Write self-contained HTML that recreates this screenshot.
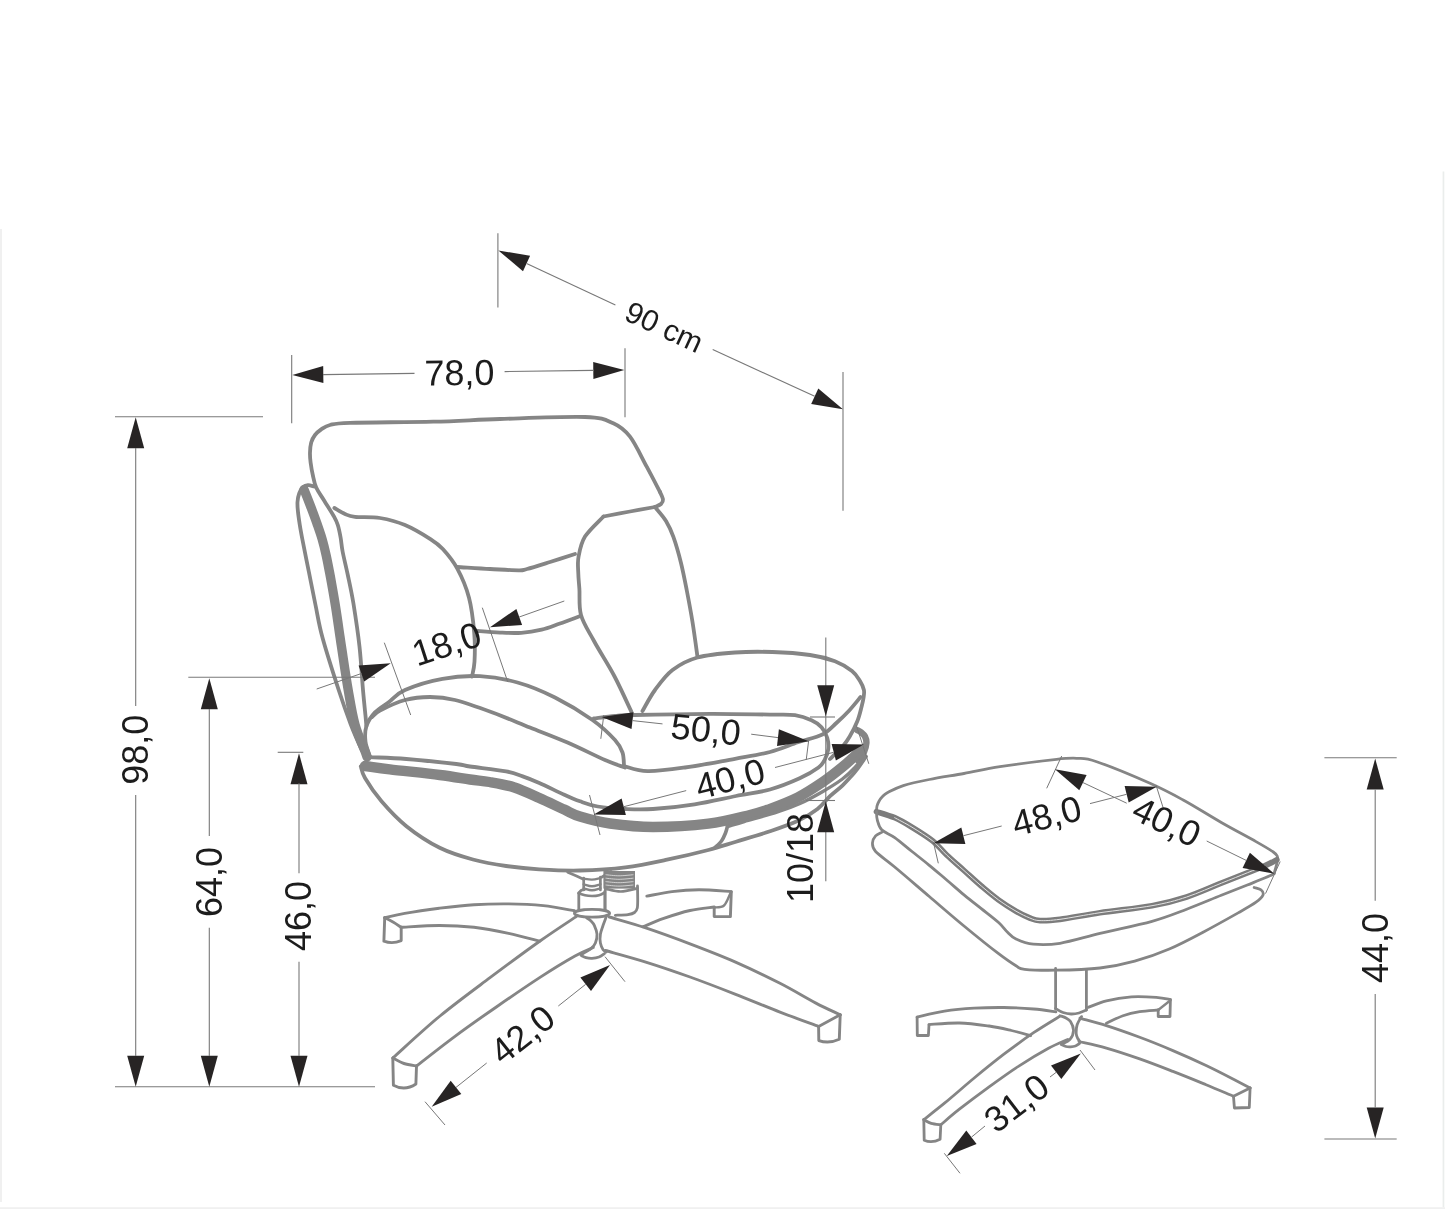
<!DOCTYPE html>
<html lang="en">
<head>
<meta charset="utf-8">
<title>Armchair with footstool – dimensions</title>
<style>
html,body{margin:0;padding:0;background:#fff;}
body{width:1445px;height:1212px;overflow:hidden;position:relative;}
svg{position:absolute;left:0;top:0;display:block;will-change:transform;}
svg text{font-family:"Liberation Sans",Arial,Helvetica,sans-serif;}
</style>
</head>
<body>
<svg width="1445" height="1212" viewBox="0 0 1445 1212">
<rect x="0" y="0" width="1445" height="1212" fill="#ffffff"/>
<rect x="0" y="229" width="2" height="973" fill="#f0f0f0"/>
<rect x="1442.6" y="171.5" width="1.7" height="1036" fill="#eaedec"/>
<rect x="0" y="1207.2" width="1445" height="1.8" fill="#f0f0f0"/>
<g id="armchair">
<path d="M314 486.5C313 486.3 309.9 485.1 308 485.2C306.1 485.3 304.3 486 302.8 487.4C301.3 488.8 300.1 491.1 299.2 493.5C298.3 495.9 297.7 498.9 297.5 502C297.3 505.1 297.6 508.2 298 512C298.4 515.8 299.1 520.5 299.8 525C300.5 529.5 300.8 531.2 302.3 539C303.8 546.8 306.7 561 308.9 572C311.1 583 313.2 594 315.5 605C317.8 616 318.7 623.8 322.6 638C326.5 652.2 334 675.6 338.7 690C343.4 704.4 347.1 714.7 350.8 724.5C354.6 734.3 358.7 743.3 361.2 748.7C363.7 754.1 365.2 755.6 366 757" fill="none" stroke="#858585" stroke-width="3.8" stroke-linecap="round" stroke-linejoin="round"/>
<path d="M304 489.5C305.1 492.2 308.4 500.5 310.5 506C312.6 511.5 314.7 517 316.6 522.5C318.5 528 320.5 533.5 322.1 539C323.7 544.5 325 550 326.2 555.5C327.4 561 328.4 566.5 329.5 572C330.6 577.5 331.5 583 332.5 588.5C333.5 594 334.4 599.5 335.3 605C336.2 610.5 337 616 337.8 621.5C338.6 627 339.4 632.9 340.2 638C340.9 643.1 341 643.3 342.3 652C343.6 660.7 346.1 677.9 348.2 690C350.3 702.1 352.2 714.4 355 724.5C357.8 734.6 362.7 745.1 364.7 750.5C366.7 755.9 366.6 755.9 367 757" fill="none" stroke="#858585" stroke-width="9.3" stroke-linecap="round" stroke-linejoin="round"/>
<path d="M366.4 726C366.2 724.3 366.1 721.8 365.5 715.8C364.9 709.8 364 701.5 363 690C362 678.5 361.1 661.1 359.5 646.6C357.9 632.1 355.3 615.2 353.4 603.3C351.4 591.4 349.6 583.6 347.8 575C346 566.4 343.8 557.8 342.6 551.5C341.4 545.2 341.4 541.9 340.6 537.5C339.8 533.1 338.9 528.5 337.8 525C336.7 521.5 336.1 520.4 333.8 516.2C331.4 512.1 326.7 504.8 323.8 500C320.8 495.2 318.1 491.7 316.2 487.5C314.4 483.3 313.7 479.2 312.8 475C311.8 470.8 311.1 466.2 310.6 462.5C310.1 458.8 309.9 455.8 310 452.5C310.1 449.2 310.4 445.4 311.2 442.5C312.1 439.6 313.3 437.2 315 435C316.7 432.8 318.8 431.1 321.2 429.4C323.8 427.7 325.2 426.1 330 425C334.8 423.9 332.8 423.4 350 422.8C367.2 422.2 408.3 422.3 433.3 421.7C458.3 421.1 474.7 419.8 500 419C525.3 418.2 566.1 416.3 585 417C603.9 417.7 605.8 420 613.3 423.3C620.8 426.6 624.4 429.5 630 436.7C635.6 443.9 641.7 457.5 646.7 466.7C651.7 475.9 657.8 487.8 660 492" fill="none" stroke="#858585" stroke-width="3.8" stroke-linecap="round" stroke-linejoin="round"/>
<path d="M660 492C660.5 493.2 662.8 497.5 663 499.5C663.2 501.5 662.3 502.8 661 504C659.7 505.2 656 506.5 655 507" fill="none" stroke="#858585" stroke-width="3.8" stroke-linecap="round" stroke-linejoin="round"/>
<path d="M655 507C650.8 507.8 638.6 509.9 630 511.5C621.4 513.1 607.9 515.7 603.5 516.5" fill="none" stroke="#858585" stroke-width="3.8" stroke-linecap="round" stroke-linejoin="round"/>
<path d="M334.4 508C336.2 509 341.6 512.5 345 514C348.4 515.5 349.2 516.2 355 516.9C360.8 517.6 371.7 516.6 380 518C388.3 519.4 396.7 521.5 405 525C413.3 528.5 423.7 534.8 430 538.8C436.3 542.8 438.2 544 442.8 549C447.4 554 452.9 560.5 457.3 568.6C461.7 576.7 466.2 587 469 597.7C471.8 608.4 473.3 622 474.2 632.6C475.1 643.2 474.9 654.3 474.5 661.6C474.1 668.9 472.4 674 472 676.5" fill="none" stroke="#858585" stroke-width="3.8" stroke-linecap="round" stroke-linejoin="round"/>
<path d="M457.3 567C462.8 567.3 479.8 568.5 490 569C500.2 569.5 512.2 570.3 518.4 570.3C524.6 570.3 521.7 570.4 527 569C532.3 567.6 542 564.5 550 562C558 559.5 570.8 555.3 575 554" fill="none" stroke="#858585" stroke-width="3.8" stroke-linecap="round" stroke-linejoin="round"/>
<path d="M477.7 631C481.4 631.3 492.7 632.3 500 632.6C507.3 632.9 514.4 633.3 521.3 632.8C528.2 632.3 535.1 631.2 541.6 629.7C548.1 628.2 553.7 625.7 560 623.5C566.3 621.3 576.2 617.5 579.5 616.3" fill="none" stroke="#858585" stroke-width="3.8" stroke-linecap="round" stroke-linejoin="round"/>
<path d="M603.5 516.5C600.4 519.9 589.2 529.9 585 536.6C580.8 543.4 579.6 550.9 578.5 557C577.4 563.1 578.1 568 578.3 573.3C578.4 578.6 578.9 582 579.4 589C579.9 596 578.6 606.3 581 615C583.4 623.7 588.5 630.8 594 641C599.5 651.2 608 664.1 614.3 676C620.6 687.9 628.8 706.4 631.7 712.5" fill="none" stroke="#858585" stroke-width="3.8" stroke-linecap="round" stroke-linejoin="round"/>
<path d="M655 507C656.8 509.3 663 516 666 521C669 526 670.8 529.7 673.3 536.7C675.8 543.7 678.8 554.1 681 563C683.2 571.9 684.8 580.2 686.7 590C688.6 599.8 690.7 610.8 692.5 622C694.3 633.2 696.7 651.2 697.5 657" fill="none" stroke="#858585" stroke-width="3.8" stroke-linecap="round" stroke-linejoin="round"/>
<path d="M369.8 756C369.1 753.6 366.1 746.8 365.5 741.8C364.9 736.8 364.8 731.1 366.4 726.2C368 721.3 371.2 716.4 375 712.4C378.8 708.4 384 705.7 389 702C394 698.3 396.1 693.9 405 690C413.9 686.1 430 681 442.5 678.8C455 676.5 467.5 675.6 480 676.2C492.5 676.9 505 679 517.5 682.5C530 686 542.5 691.2 555 697.5C567.5 703.8 582.5 712.9 592.5 720C602.5 727.1 610 734.6 615 740C620 745.4 621 748.2 622.5 752.5C624 756.8 623.8 763.8 624 766" fill="none" stroke="#858585" stroke-width="3.8" stroke-linecap="round" stroke-linejoin="round"/>
<path d="M372 717C373.3 715.9 374.5 713.3 380 710.5C385.5 707.7 396.7 702.2 405 700C413.3 697.8 421.7 697 430 697C438.3 697 444.6 697.4 455 700C465.4 702.6 480 707.9 492.5 712.5C505 717.1 517.5 722.5 530 727.5C542.5 732.5 555 737.1 567.5 742.5C580 747.9 595.4 755.8 605 760C614.6 764.2 621.7 766.2 625 767.5" fill="none" stroke="#858585" stroke-width="3.8" stroke-linecap="round" stroke-linejoin="round"/>
<path d="M642.5 711C644.6 707.5 650 696.8 655 690C660 683.2 665.4 675.4 672.5 670C679.6 664.6 687.1 660.4 697.5 657.5C707.9 654.6 722.5 653.4 735 652.5C747.5 651.6 760 651.6 772.5 652C785 652.4 799.6 653.5 810 655C820.4 656.5 828 658.6 835 661.2C842 663.9 847.8 667.7 852 671C856.2 674.3 858 677.8 860 681C862 684.2 863.3 687.2 863.9 690C864.5 692.8 863.9 695.1 863.5 698C863.1 700.9 862.4 703.5 861.4 707.4C860.4 711.3 859.2 716.6 857.2 721.5C855.2 726.4 852.1 732.4 849.7 736.5C847.3 740.6 846.3 742.2 843 746C839.7 749.8 832.2 756.8 830 759" fill="none" stroke="#858585" stroke-width="3.8" stroke-linecap="round" stroke-linejoin="round"/>
<path d="M593.8 718.5C597.3 718.1 608.1 716.6 615 716C621.9 715.4 619.2 715.4 635 715C650.8 714.6 687.5 713.9 710 713.8C732.5 713.7 755.8 714.4 770 714.6C784.2 714.8 788.1 714.2 795 715.2C801.9 716.2 807.1 718.3 811.5 720.3C815.9 722.3 818.9 724.3 821.5 727.3C824.1 730.2 826.2 734.4 827.3 738C828.4 741.6 828.7 745.4 828.3 749C827.9 752.6 826.4 756.4 824.8 759.5C823.2 762.6 822.7 764.4 818.5 767.5C814.3 770.6 807.8 774.6 799.7 778.3C791.6 782 780.6 786.5 770 789.5C759.4 792.5 748.6 793.5 736 796C723.4 798.5 708.4 802.1 694.6 804.3C680.8 806.5 664.5 808.2 653 809C641.5 809.8 634.6 809.4 625.4 809C616.2 808.6 605.3 807.8 597.7 806.5C590.1 805.2 585.6 803.3 580 801.3C574.4 799.3 571.1 797.8 564.3 794.7C557.5 791.7 546.2 786 539.3 783C532.4 780 528.2 778.3 522.7 776.4C517.2 774.5 514.9 773 506.1 771.4C497.3 769.8 478.3 767.7 470 766.5C461.7 765.3 466.9 765.2 456.3 764C445.7 762.8 420.2 760.1 406.4 759C392.5 757.9 379.8 757.6 373.2 757.3C366.6 757 368 757 367 757" fill="none" stroke="#858585" stroke-width="3.8" stroke-linecap="round" stroke-linejoin="round"/>
<path d="M624 766C627.9 766.9 637.3 771 647.5 771.2C657.7 771.5 670.4 769.6 685 767.5C699.6 765.4 720.8 761.3 735 758.8C749.2 756.2 759.5 754.7 770 752C780.5 749.3 789.3 745.2 798 742.3C806.7 739.4 816 737.7 822.4 734.5C828.8 731.3 832 727 836.4 723C840.8 719 845 715 849 710.7C853 706.4 858.6 699.3 860.5 697" fill="none" stroke="#858585" stroke-width="3.8" stroke-linecap="round" stroke-linejoin="round"/>
<path d="M365 766C369.1 766.5 377.4 767.8 389.8 769.3C402.2 770.8 426.3 773.3 439.7 775C453.1 776.7 461.7 778.3 470 779.5C478.3 780.7 482.1 780.7 489.5 782C496.9 783.3 506.1 784.8 514.4 787.5C522.7 790.2 531 794.3 539.3 798C547.6 801.7 557.5 806.5 564.3 809.6C571.1 812.7 572.4 814.2 580 816.5C587.6 818.8 597.8 821.8 610 823.5C622.2 825.2 636.6 827 653 827C669.4 827 692.2 825.7 708.4 823.7C724.6 821.7 739.9 817.4 750 815C760.1 812.6 761 812.2 769 809.3C777 806.3 789.1 801.8 798 797.3C806.9 792.8 815 787.3 822.4 782.3C829.8 777.2 837 771.4 842.4 767C847.8 762.6 851.8 758.8 854.8 756C857.8 753.2 859.5 751.4 860.5 750.5" fill="none" stroke="#858585" stroke-width="10.4" stroke-linecap="round" stroke-linejoin="round"/>
<path d="M858 760.5C859 759.1 862.6 754.9 864 752C865.4 749.1 866.2 745.6 866.4 743C866.6 740.4 865.9 738.3 865 736.5C864.1 734.7 862.3 733.4 861 732.3C859.7 731.2 857.7 730.4 857 730" fill="none" stroke="#858585" stroke-width="6.4" stroke-linecap="round" stroke-linejoin="round"/>
<path d="M864.5 755C862.9 757.1 858.7 763.5 855 767.5C851.3 771.5 847.9 774.9 842.4 779C836.9 783.1 829.1 787.9 822 792C814.9 796.1 807.4 800.2 800 803.5C792.6 806.8 786.8 809 777.5 812C768.2 815 752.6 819.1 744.3 821.5C736 823.9 730.3 825.7 727.5 826.5" fill="none" stroke="#858585" stroke-width="3.4" stroke-linecap="round" stroke-linejoin="round"/>
<path d="M727.5 826C727.2 827.2 726.5 830.5 725.5 833C724.5 835.5 723.3 838.5 721.5 841C719.7 843.5 715.7 846.8 714.5 848" fill="none" stroke="#858585" stroke-width="3.6" stroke-linecap="round" stroke-linejoin="round"/>
<path d="M360.8 766.4C361.5 768.3 361.6 772.2 365 778C368.4 783.8 374.6 793.3 381.5 801.3C388.4 809.3 396.7 818.5 406.4 826.2C416.1 834 428.6 842.2 439.7 847.8C450.8 853.3 461.8 856.5 472.9 859.5C484 862.5 495 864.4 506.1 866C517.2 867.6 527 868.6 539.3 869.4C551.6 870.1 565.6 870.9 580 870.5C594.4 870.1 610.9 869.1 625.4 867.3C639.9 865.5 653.2 862.6 667 859.7C680.8 856.8 696.9 853 708.4 850C719.9 847 725.7 844.8 736 841.7C746.3 838.6 759.7 834.8 770 831.3C780.3 827.8 790.1 824.5 798 820.8C805.9 817.1 812.2 813.1 817.5 809C822.8 804.9 825.9 800.1 830 796.2C834.1 792.3 838.8 789 842.4 785.6C846 782.2 849.1 778.6 851.7 775.7C854.3 772.8 855.8 770.9 857.8 768.3C859.8 765.7 862 762.3 863.4 760.3C864.8 758.3 865.6 757.1 866 756.5" fill="none" stroke="#858585" stroke-width="3.8" stroke-linecap="round" stroke-linejoin="round"/>
<path d="M567.7 872.2L576.5 876L583 879" fill="none" stroke="#858585" stroke-width="2.7" stroke-linecap="round" stroke-linejoin="round"/>
<path d="M611 871.5L602 877" fill="none" stroke="#858585" stroke-width="2.7" stroke-linecap="round" stroke-linejoin="round"/>
<path d="M583.7 878L583.7 890" fill="none" stroke="#858585" stroke-width="2.7" stroke-linecap="round" stroke-linejoin="round"/>
<path d="M600.4 877L600.4 890" fill="none" stroke="#858585" stroke-width="2.7" stroke-linecap="round" stroke-linejoin="round"/>
<path d="M583.7 878.6C585.1 878.8 589.2 879.7 592 879.6C594.8 879.5 599 878.3 600.4 878" fill="none" stroke="#858585" stroke-width="2.4" stroke-linecap="round" stroke-linejoin="round"/>
<path d="M583.7 884.3C585.1 884.6 589.2 886.3 592 886.3C594.8 886.3 599 884.6 600.4 884.3" fill="none" stroke="#858585" stroke-width="2.4" stroke-linecap="round" stroke-linejoin="round"/>
<path d="M583.7 888.3C585.1 888.6 589.2 890.3 592 890.3C594.8 890.3 599 888.6 600.4 888.3" fill="none" stroke="#858585" stroke-width="2.4" stroke-linecap="round" stroke-linejoin="round"/>
<path d="M578.8 893L578.8 912" fill="none" stroke="#858585" stroke-width="2.8" stroke-linecap="round" stroke-linejoin="round"/>
<path d="M604.8 891.5L604.8 913" fill="none" stroke="#858585" stroke-width="2.8" stroke-linecap="round" stroke-linejoin="round"/>
<path d="M578.8 893.2C579.2 892.8 580 891.1 581 890.5C582 889.9 584.3 889.5 585 889.3" fill="none" stroke="#858585" stroke-width="2.7" stroke-linecap="round" stroke-linejoin="round"/>
<path d="M578.8 893.2C579.8 893.6 582.8 894.8 585 895.3C587.2 895.8 589.7 896 592 896C594.3 896 596.9 895.8 599 895.2C601.1 894.6 603.8 893 604.8 892.5" fill="none" stroke="#858585" stroke-width="2.7" stroke-linecap="round" stroke-linejoin="round"/>
<rect x="603.4" y="871" width="31.6" height="17.6" fill="#858585"/>
<path d="M605.6 874.7C607.8 874.9 614.4 875.8 619 875.8C623.6 875.8 631 874.9 633.4 874.7" fill="none" stroke="#d9d9d9" stroke-width="0.9" stroke-linecap="butt" stroke-linejoin="round"/>
<path d="M605.6 878.2C607.8 878.4 614.4 879.3 619 879.3C623.6 879.3 631 878.4 633.4 878.2" fill="none" stroke="#d9d9d9" stroke-width="0.9" stroke-linecap="butt" stroke-linejoin="round"/>
<path d="M605.6 881.6C607.8 881.8 614.4 882.7 619 882.7C623.6 882.7 631 881.8 633.4 881.6" fill="none" stroke="#d9d9d9" stroke-width="0.9" stroke-linecap="butt" stroke-linejoin="round"/>
<path d="M605.6 885C607.8 885.2 614.4 886.1 619 886.1C623.6 886.1 631 885.2 633.4 885" fill="none" stroke="#d9d9d9" stroke-width="0.9" stroke-linecap="butt" stroke-linejoin="round"/>
<path d="M605.3 888.8C607.9 889.2 615.4 891.6 620.8 891.5C626.2 891.4 634.7 888.8 637.5 888.3" fill="none" stroke="#858585" stroke-width="2.7" stroke-linecap="round" stroke-linejoin="round"/>
<path d="M637.5 886C637.5 888 637.7 894.3 637.7 898C637.7 901.7 637.8 905.6 637.3 908C636.8 910.4 636 911.4 634.5 912.5C633 913.6 631.2 914.1 628 914.6C624.8 915.1 617.4 915.2 615.3 915.3" fill="none" stroke="#858585" stroke-width="2.8" stroke-linecap="round" stroke-linejoin="round"/>
<path d="M605.3 889L605.3 913" fill="none" stroke="#858585" stroke-width="2.4" stroke-linecap="round" stroke-linejoin="round"/>
<ellipse cx="592" cy="913.3" rx="17.6" ry="3.9" fill="#fff" stroke="#858585" stroke-width="2.8"/>
<path d="M586.5 917.6C587.2 918.2 589.7 919.7 591 921C592.3 922.3 593.3 923.1 594.3 925.3C595.3 927.5 596.8 931.2 597 934.2C597.2 937.2 596.4 940.6 595.4 943C594.4 945.4 593.2 946.8 591 948.6C588.8 950.4 583.5 953.1 582 954" fill="none" stroke="#858585" stroke-width="2.8" stroke-linecap="round" stroke-linejoin="round"/>
<path d="M606.4 916.4C605.9 917.9 604.1 922.3 603.1 925.3C602.1 928.3 600.9 931.2 600.4 934.2C599.9 937.2 599.9 940.4 600.4 943C600.9 945.6 602.1 948.2 603.1 949.7C604.1 951.2 605.9 951.5 606.4 951.9" fill="none" stroke="#858585" stroke-width="2.8" stroke-linecap="round" stroke-linejoin="round"/>
<path d="M581 955.3C581.8 955.7 584.2 957.1 586 957.6C587.8 958.1 589.8 958.4 592 958.3C594.2 958.2 596.9 957.8 599 957C601.1 956.2 603.6 954.2 604.5 953.6" fill="none" stroke="#858585" stroke-width="2.8" stroke-linecap="round" stroke-linejoin="round"/>
<path d="M574.5 910.8C569.3 909.9 554.3 906.8 543.3 905.6C532.3 904.5 520.1 904 508.6 903.9C497.1 903.8 485.6 904 474 904.7C462.4 905.4 450.9 906.8 439.3 908.2C427.8 909.7 413.8 911.8 404.7 913.4C395.6 915 388 917 384.7 917.7" fill="none" stroke="#858585" stroke-width="2.9" stroke-linecap="round" stroke-linejoin="round"/>
<path d="M384.7 917.7L383.9 941.2Q392.5 944.3 401.2 940.6L401.2 927.3" fill="none" stroke="#858585" stroke-width="2.9" stroke-linecap="round" stroke-linejoin="round"/>
<path d="M384.7 917.7C386.1 918.4 390.2 920.4 393 922C395.8 923.6 399.8 926.4 401.2 927.3" fill="none" stroke="#858585" stroke-width="2.9" stroke-linecap="round" stroke-linejoin="round"/>
<path d="M401.2 927.3C407.6 927 427.2 925.5 439.3 925.5C451.4 925.5 462.4 926 474 927.3C485.6 928.6 497.6 931 508.6 933.3C519.6 935.6 534.6 939.8 539.8 941.1" fill="none" stroke="#858585" stroke-width="2.9" stroke-linecap="round" stroke-linejoin="round"/>
<path d="M576.5 916.4C570.4 920.5 554.4 930.8 540 941C525.6 951.2 506.7 965.2 490 977.7C473.3 990.2 456.1 1002.7 440 1016C423.9 1029.3 401.1 1050.6 393.3 1057.5" fill="none" stroke="#858585" stroke-width="2.9" stroke-linecap="round" stroke-linejoin="round"/>
<path d="M593.2 947.5C590.2 948.9 583.9 951 575 956C566.1 961 553 968.9 540 977.4C527 985.9 510.9 996.9 496.7 1006.7C482.5 1016.5 468.4 1026.4 455 1036.3C441.6 1046.2 422.9 1061 416.5 1066" fill="none" stroke="#858585" stroke-width="2.9" stroke-linecap="round" stroke-linejoin="round"/>
<path d="M392.8 1058C394.7 1058.9 400.1 1062.2 404 1063.5C407.9 1064.8 414.4 1065.6 416.5 1066" fill="none" stroke="#858585" stroke-width="2.9" stroke-linecap="round" stroke-linejoin="round"/>
<path d="M392.8 1058L393.4 1085.2Q404.8 1091.4 415.9 1084L416.5 1066" fill="none" stroke="#858585" stroke-width="2.9" stroke-linecap="round" stroke-linejoin="round"/>
<path d="M609.3 917C615.2 918.8 631.5 923.1 645 927.6C658.5 932.1 675 938.1 690 943.8C705 949.5 720 955.2 735 961.8C750 968.4 766.5 976.4 780 983.3C793.5 990.2 805.9 997.9 815.9 1003.1C825.9 1008.4 836.2 1012.8 840.2 1014.8" fill="none" stroke="#858585" stroke-width="2.9" stroke-linecap="round" stroke-linejoin="round"/>
<path d="M605.4 950.5C612 952.4 630.9 957.4 645 961.8C659.1 966.2 675 971.6 690 977C705 982.4 720 988.2 735 994.1C750 1000 766.1 1006.7 780 1012.1C793.9 1017.5 812.2 1024.1 818.6 1026.5" fill="none" stroke="#858585" stroke-width="2.9" stroke-linecap="round" stroke-linejoin="round"/>
<path d="M818.6 1026.5L840.2 1014.8" fill="none" stroke="#858585" stroke-width="2.9" stroke-linecap="round" stroke-linejoin="round"/>
<path d="M840.2 1014.8L839.3 1039.3Q829 1044.1 818.8 1040.6L818.6 1026.5" fill="none" stroke="#858585" stroke-width="2.9" stroke-linecap="round" stroke-linejoin="round"/>
<path d="M646.8 896.1C651 895.4 663.3 892.7 672 891.6C680.7 890.5 689.1 889.8 699 889.8C708.9 889.8 725.9 891.3 731.3 891.6" fill="none" stroke="#858585" stroke-width="2.9" stroke-linecap="round" stroke-linejoin="round"/>
<path d="M731.3 891.6L730.4 916.6L714.2 916.6L714.2 907.5" fill="none" stroke="#858585" stroke-width="2.9" stroke-linecap="round" stroke-linejoin="round"/>
<path d="M714.2 907.5C715.8 907.2 721.3 907.9 724 905.5C726.7 903.1 729.4 895.1 730.5 893" fill="none" stroke="#858585" stroke-width="2.4" stroke-linecap="round" stroke-linejoin="round"/>
<path d="M714.2 907C710.2 907.6 698.5 908.6 690 910.5C681.5 912.4 670.8 915.9 663 918.6C655.2 921.3 646.5 925.4 643.2 926.7" fill="none" stroke="#858585" stroke-width="2.9" stroke-linecap="round" stroke-linejoin="round"/>
</g>
<g id="footstool">
<path d="M876.5 811.6C876.6 810.7 876.6 807.7 877 806C877.4 804.3 878.1 802.8 879 801.2C879.9 799.6 881 798 882.5 796.5C884 795 884.2 794.3 887.7 792.5C891.2 790.7 896.4 787.8 903.3 785.6C910.2 783.4 919.2 781.5 929.3 779.5C939.4 777.5 952.2 775.6 964 773.5C975.8 771.4 984.5 769.1 1000 766.7C1015.5 764.3 1043.9 760.7 1056.7 759.3C1069.5 757.9 1070 757.9 1076.7 758.3C1083.4 758.7 1084.5 757.5 1096.7 761.7C1108.9 765.9 1135.6 776.9 1150 783.3C1164.4 789.7 1171.3 793.5 1183.2 800C1195.1 806.5 1209.2 815.6 1221.3 822.5C1233.4 829.4 1247.3 836.7 1256 841.6C1264.7 846.5 1269.7 849.5 1273.3 852C1276.9 854.5 1276.8 854.8 1277.4 856.5C1278.1 858.2 1277.7 859.2 1277.2 862C1276.7 864.8 1274.7 871.3 1274.2 873.2" fill="none" stroke="#858585" stroke-width="2.8" stroke-linecap="round" stroke-linejoin="round"/>
<path d="M876.5 811.6C879.5 812.6 888.8 815.1 894.7 817.7C900.6 820.3 905.6 823.3 912 827.2C918.4 831.1 927 836.4 932.8 841C938.6 845.6 941.5 850.1 946.7 855C951.9 859.9 958.2 865.3 964 870.5C969.8 875.7 975.5 881.1 981.3 886C987.1 890.9 992.8 895.8 998.6 900C1004.4 904.2 1010.8 908.2 1016 911.2C1021.2 914.2 1025.8 916.4 1029.8 918C1033.8 919.6 1035 920.4 1040 920.6C1045 920.8 1050 920.6 1060 919.3C1070 918 1084.7 915 1100 912.7C1115.3 910.4 1137.5 908.3 1152 905.7C1166.5 903.1 1175.2 900.8 1186.7 897C1198.2 893.2 1211.2 887.2 1221.3 883.2C1231.4 879.2 1240.1 875.7 1247.3 872.8C1254.5 869.9 1259.7 868.1 1264.6 865.9C1269.5 863.7 1274.8 860.8 1276.8 859.8" fill="none" stroke="#7c7c7c" stroke-width="5.7" stroke-linecap="round" stroke-linejoin="round"/>
<path d="M894.7 817.7C897.6 819.3 905.6 823.3 912 827.2C918.4 831.1 927 836.4 932.8 841C938.6 845.6 941.5 850.1 946.7 855C951.9 859.9 958.2 865.3 964 870.5C969.8 875.7 975.5 881.1 981.3 886C987.1 890.9 992.8 895.8 998.6 900C1004.4 904.2 1010.8 908.2 1016 911.2C1021.2 914.2 1025.8 916.4 1029.8 918C1033.8 919.6 1035 920.4 1040 920.6C1045 920.8 1050 920.6 1060 919.3C1070 918 1084.7 915 1100 912.7C1115.3 910.4 1137.5 908.3 1152 905.7C1166.5 903.1 1175.2 900.8 1186.7 897C1198.2 893.2 1211.2 887.2 1221.3 883.2C1231.4 879.2 1240.1 875.7 1247.3 872.8C1254.5 869.9 1261.7 867 1264.6 865.9" fill="none" stroke="#e2e2e2" stroke-width="1" stroke-linecap="round" stroke-linejoin="round"/>
<path d="M876.5 811.6C876.6 813 876.4 817 877.3 820C878.2 823 878.8 826.9 881.7 829.8C884.6 832.7 889.7 834 894.7 837.6C899.8 841.2 906.2 846.9 912 851.5C917.8 856.1 923.5 860.5 929.3 865.3C935.1 870 940.9 875.1 946.7 880C952.5 884.9 958.2 890 964 894.8C969.8 899.6 975.5 904 981.3 908.6C987.1 913.2 994.3 918.6 998.6 922.5C1002.9 926.4 1004.4 929.2 1007.3 932C1010.2 934.8 1011.7 937 1016 939C1020.3 941 1026 943.5 1033.3 944.2C1040.6 944.9 1048.9 945.1 1060 943.3C1071.1 941.5 1084.7 937.1 1100 933.4C1115.3 929.7 1137.5 925.3 1152 921.3C1166.5 917.3 1175.2 913.5 1186.7 909.2C1198.2 904.9 1211.2 899.3 1221.3 895.3C1231.4 891.3 1240.1 887.9 1247.3 885C1254.5 882.1 1260.1 879.9 1264.6 878C1269.1 876.1 1272.6 874.4 1274.2 873.7" fill="none" stroke="#858585" stroke-width="2.8" stroke-linecap="round" stroke-linejoin="round"/>
<path d="M881.7 832.4C880.7 833 877.1 834.2 875.6 835.9C874.1 837.6 872.5 840.2 872.5 842.8C872.5 845.4 871.9 847.5 875.6 851.5C879.3 855.5 885.8 859.5 894.7 867C903.7 874.5 917.8 886.7 929.3 896.5C940.8 906.3 952.5 916.5 964 926C975.5 935.5 989.9 947.1 998.6 953.7C1007.3 960.3 1011.7 963.2 1016 965.8C1020.3 968.4 1018 968.6 1024.6 969.3C1031.2 970 1043.2 970.4 1055.8 970.2C1068.4 970 1086.8 969.5 1100 968C1113.2 966.5 1123.2 964.4 1134.7 961.2C1146.2 958 1157.8 953.9 1169.3 949C1180.8 944.1 1192.5 937.8 1204 931.7C1215.5 925.6 1229.9 917.5 1238.6 912.6C1247.3 907.7 1252 905.1 1256 902.2C1260 899.3 1262 897.3 1262.9 895.3C1263.8 893.3 1262.7 891.3 1261.2 890C1259.8 888.7 1255.4 887.9 1254.2 887.5" fill="none" stroke="#858585" stroke-width="2.8" stroke-linecap="round" stroke-linejoin="round"/>
<path d="M1055.6 968.5L1055.6 1009" fill="none" stroke="#858585" stroke-width="2.8" stroke-linecap="round" stroke-linejoin="round"/>
<path d="M1086.4 970L1086.4 1010" fill="none" stroke="#858585" stroke-width="2.8" stroke-linecap="round" stroke-linejoin="round"/>
<path d="M1055.6 1008.5C1056.8 1009.2 1060.4 1011.6 1063 1012.5C1065.6 1013.4 1068.3 1013.9 1071 1014C1073.7 1014.1 1076.4 1013.7 1079 1013C1081.6 1012.3 1085.2 1010.5 1086.4 1010" fill="none" stroke="#858585" stroke-width="2.8" stroke-linecap="round" stroke-linejoin="round"/>
<path d="M1060 1015.7C1061 1016.1 1064.2 1017 1066 1018C1067.8 1019 1069.2 1019.5 1070.5 1021.6C1071.8 1023.7 1073.6 1027.5 1073.5 1030.5C1073.4 1033.5 1072 1037.1 1070 1039.4C1068 1041.7 1062.9 1043.7 1061.5 1044.5" fill="none" stroke="#858585" stroke-width="2.8" stroke-linecap="round" stroke-linejoin="round"/>
<path d="M1081.5 1016.6C1080.8 1017.9 1078.1 1021.7 1077.2 1024.5C1076.3 1027.3 1076.1 1031.2 1076.2 1033.5C1076.3 1035.8 1077.1 1037.1 1077.8 1038.5C1078.5 1039.9 1079.8 1041.4 1080.2 1042" fill="none" stroke="#858585" stroke-width="2.8" stroke-linecap="round" stroke-linejoin="round"/>
<path d="M1061.5 1044.5C1062.2 1044.8 1064.5 1046.1 1066 1046.5C1067.5 1046.9 1069.1 1046.9 1070.7 1046.8C1072.3 1046.7 1074 1046.5 1075.5 1046C1077 1045.5 1078.8 1043.9 1079.5 1043.5" fill="none" stroke="#858585" stroke-width="2.8" stroke-linecap="round" stroke-linejoin="round"/>
<path d="M1055.9 1011.9C1052.2 1011.4 1042.3 1009.7 1033.6 1009C1024.9 1008.3 1013.8 1007.6 1003.9 1007.5C994 1007.4 984.1 1007.6 974.2 1008.2C964.3 1008.8 954 1009.7 944.5 1011.2C935 1012.7 921.7 1016.1 917.1 1017.1" fill="none" stroke="#858585" stroke-width="2.8" stroke-linecap="round" stroke-linejoin="round"/>
<path d="M917.1 1017.1L917.3 1035.5L928.4 1035.5L929 1025" fill="none" stroke="#858585" stroke-width="2.8" stroke-linecap="round" stroke-linejoin="round"/>
<path d="M929 1024.6C934.1 1024.3 949.4 1022.8 959.4 1023C969.4 1023.2 980.4 1024.8 989.1 1026C997.8 1027.2 1004.5 1028.9 1011.4 1030.5C1018.3 1032.1 1027.5 1034.8 1030.7 1035.7" fill="none" stroke="#858585" stroke-width="2.8" stroke-linecap="round" stroke-linejoin="round"/>
<path d="M1088.2 1007.4C1091.2 1006.3 1099.2 1002.6 1106.4 1000.8C1113.6 999 1123.1 997.4 1131.4 996.8C1139.7 996.2 1149.8 996.9 1156.3 997.4C1162.8 997.9 1168.1 999.2 1170.4 999.6" fill="none" stroke="#858585" stroke-width="2.8" stroke-linecap="round" stroke-linejoin="round"/>
<path d="M1170.4 999.6L1170 1016.5L1158.2 1016.5L1158.2 1010" fill="none" stroke="#858585" stroke-width="2.8" stroke-linecap="round" stroke-linejoin="round"/>
<path d="M1158.2 1010L1170.2 1000.5" fill="none" stroke="#858585" stroke-width="2.4" stroke-linecap="round" stroke-linejoin="round"/>
<path d="M1158.2 1010C1155.1 1010.3 1145.6 1010.6 1139.7 1011.6C1133.8 1012.6 1128.5 1013.8 1123 1015.7C1117.5 1017.6 1109.2 1022 1106.4 1023.2" fill="none" stroke="#858585" stroke-width="2.8" stroke-linecap="round" stroke-linejoin="round"/>
<path d="M1059.6 1016.4C1055.3 1019.1 1042.9 1026.4 1033.6 1032.7C1024.3 1039 1013.8 1046.7 1003.9 1054.2C994 1061.8 984.1 1069.8 974.2 1078C964.3 1086.2 952.9 1096.3 944.5 1103.2C936.1 1110.1 927.2 1116.9 923.8 1119.6" fill="none" stroke="#858585" stroke-width="2.8" stroke-linecap="round" stroke-linejoin="round"/>
<path d="M1067.8 1039.4C1064.6 1040.9 1056.7 1043.8 1048.5 1048.3C1040.3 1052.8 1028.7 1059.7 1018.8 1066.1C1008.9 1072.5 999 1079.7 989.1 1086.9C979.2 1094.1 967.5 1102.9 959.4 1109.2C951.3 1115.5 943.9 1122.2 940.8 1124.8" fill="none" stroke="#858585" stroke-width="2.8" stroke-linecap="round" stroke-linejoin="round"/>
<path d="M923.8 1119.6C925 1120.2 928.4 1122.5 931.2 1123.4C934 1124.3 939.2 1124.6 940.8 1124.8" fill="none" stroke="#858585" stroke-width="2.8" stroke-linecap="round" stroke-linejoin="round"/>
<path d="M923.8 1119.6L924.2 1140.2Q931.8 1143.5 940.1 1139.2L940.8 1124.8" fill="none" stroke="#858585" stroke-width="2.8" stroke-linecap="round" stroke-linejoin="round"/>
<path d="M1079.9 1018.2C1084.3 1019.5 1096.4 1022.5 1106.4 1025.7C1116.4 1028.9 1128.6 1033.2 1139.7 1037.3C1150.8 1041.4 1161.8 1045.9 1172.9 1050.6C1184 1055.3 1196.4 1060.9 1206.1 1065.5C1215.8 1070.1 1223.7 1074.2 1231 1078C1238.3 1081.8 1246.9 1086.3 1250.1 1088" fill="none" stroke="#858585" stroke-width="2.8" stroke-linecap="round" stroke-linejoin="round"/>
<path d="M1079 1041.5C1083.6 1042.6 1096.3 1045.2 1106.4 1048.1C1116.5 1051 1128.6 1055 1139.7 1058.9C1150.8 1062.8 1161.8 1067.1 1172.9 1071.4C1184 1075.7 1196 1080.6 1206.1 1084.7C1216.2 1088.8 1228.9 1094.4 1233.5 1096.3" fill="none" stroke="#858585" stroke-width="2.8" stroke-linecap="round" stroke-linejoin="round"/>
<path d="M1233.5 1096.3L1250.1 1088" fill="none" stroke="#858585" stroke-width="2.8" stroke-linecap="round" stroke-linejoin="round"/>
<path d="M1250.1 1088L1249.3 1107.5L1234.4 1108L1233.5 1096.3" fill="none" stroke="#858585" stroke-width="2.8" stroke-linecap="round" stroke-linejoin="round"/>
</g>
<g id="dimensions">
<line x1="115" y1="416.7" x2="263" y2="416.7" stroke="#787878" stroke-width="1.1"/>
<line x1="115" y1="1086.7" x2="375" y2="1086.7" stroke="#787878" stroke-width="1.1"/>
<polygon points="135.7,417.3 144.2,448.3 127.2,448.3" fill="#272424"/>
<polygon points="135.7,1086.7 127.2,1055.7 144.2,1055.7" fill="#272424"/>
<line x1="135.7" y1="448" x2="135.7" y2="706" stroke="#787878" stroke-width="1.1"/>
<line x1="135.7" y1="795" x2="135.7" y2="1056" stroke="#787878" stroke-width="1.1"/>
<text x="0" y="12.5" transform="translate(135.5 749.7) rotate(-90)" font-size="36" text-anchor="middle" fill="#1c1c1c">98,0</text>
<line x1="188.3" y1="677.3" x2="375" y2="677.3" stroke="#787878" stroke-width="1.1"/>
<polygon points="209.3,678.3 217.8,709.3 200.8,709.3" fill="#272424"/>
<polygon points="209.3,1086.7 200.8,1055.7 217.8,1055.7" fill="#272424"/>
<line x1="209.3" y1="709" x2="209.3" y2="836" stroke="#787878" stroke-width="1.1"/>
<line x1="209.3" y1="927.7" x2="209.3" y2="1056" stroke="#787878" stroke-width="1.1"/>
<text x="0" y="12.5" transform="translate(209.3 882) rotate(-90)" font-size="36" text-anchor="middle" fill="#1c1c1c">64,0</text>
<line x1="277.7" y1="752.3" x2="303.3" y2="752.3" stroke="#787878" stroke-width="1.1"/>
<polygon points="299,753.3 307.5,784.3 290.5,784.3" fill="#272424"/>
<polygon points="299,1086.7 290.5,1055.7 307.5,1055.7" fill="#272424"/>
<line x1="299" y1="783.3" x2="299" y2="873.3" stroke="#787878" stroke-width="1.1"/>
<line x1="299" y1="961.7" x2="299" y2="1056" stroke="#787878" stroke-width="1.1"/>
<text x="0" y="12.5" transform="translate(298.8 916) rotate(-90)" font-size="36" text-anchor="middle" fill="#1c1c1c">46,0</text>
<line x1="291.7" y1="355" x2="291.7" y2="423.3" stroke="#787878" stroke-width="1.1"/>
<line x1="625" y1="348.3" x2="625" y2="417.3" stroke="#787878" stroke-width="1.1"/>
<polygon points="292.3,375 323.2,366 323.4,383" fill="#272424"/>
<polygon points="624.3,370 593.4,379 593.2,362" fill="#272424"/>
<line x1="323" y1="374.6" x2="414.5" y2="373.4" stroke="#787878" stroke-width="1.1"/>
<line x1="504.6" y1="371.6" x2="593.3" y2="370.4" stroke="#787878" stroke-width="1.1"/>
<text x="0" y="12.5" transform="translate(459.4 372.6) rotate(-0.5)" font-size="36" text-anchor="middle" fill="#1c1c1c">78,0</text>
<line x1="497.9" y1="233.2" x2="497.9" y2="307.6" stroke="#787878" stroke-width="1.1"/>
<line x1="843" y1="372" x2="843" y2="510.7" stroke="#787878" stroke-width="1.1"/>
<polygon points="498.4,250.5 530.1,255.8 523,271.2" fill="#272424"/>
<polygon points="842.9,409.3 811.2,404 818.3,388.6" fill="#272424"/>
<line x1="526.6" y1="263.5" x2="615.4" y2="305" stroke="#787878" stroke-width="1.1"/>
<line x1="712.7" y1="349.6" x2="814.7" y2="396.3" stroke="#787878" stroke-width="1.1"/>
<text x="0" y="10.4" transform="translate(664.3 327) rotate(24.8)" font-size="30" text-anchor="middle" fill="#1c1c1c">90 cm</text>
<line x1="384.3" y1="642.7" x2="410.7" y2="715" stroke="#787878" stroke-width="1"/>
<line x1="482.3" y1="607.7" x2="507.7" y2="681.7" stroke="#787878" stroke-width="1"/>
<polygon points="390.7,663.3 364.2,681.5 358.6,665.4" fill="#272424"/>
<line x1="316.7" y1="689" x2="361.4" y2="673.5" stroke="#787878" stroke-width="1"/>
<polygon points="490,627.3 516.4,608.9 522.1,625" fill="#272424"/>
<line x1="564.3" y1="601" x2="519.2" y2="617" stroke="#787878" stroke-width="1"/>
<text x="0" y="12.5" transform="translate(446.5 643.8) rotate(-18)" font-size="36" text-anchor="middle" fill="#1c1c1c">18,0</text>
<line x1="603.8" y1="715" x2="600.8" y2="738.8" stroke="#787878" stroke-width="1"/>
<line x1="808.8" y1="739.5" x2="806.2" y2="760" stroke="#787878" stroke-width="1"/>
<polygon points="601.7,717 633.5,712.2 631.5,729" fill="#272424"/>
<line x1="632.5" y1="720.6" x2="662.5" y2="723.9" stroke="#787878" stroke-width="1"/>
<polygon points="808.8,741.2 777,746.1 778.9,729.2" fill="#272424"/>
<line x1="751.2" y1="734.2" x2="778" y2="737.6" stroke="#787878" stroke-width="1"/>
<text x="0" y="12.5" transform="translate(706 729.5) rotate(6)" font-size="36" text-anchor="middle" fill="#1c1c1c">50,0</text>
<line x1="589.5" y1="795" x2="600" y2="835" stroke="#787878" stroke-width="1"/>
<line x1="856.2" y1="725" x2="868.8" y2="763.8" stroke="#787878" stroke-width="1"/>
<polygon points="593.8,814.5 621.6,798.5 625.9,814.9" fill="#272424"/>
<line x1="623.8" y1="806.7" x2="686.2" y2="790.6" stroke="#787878" stroke-width="1"/>
<polygon points="863.8,744.5 835.9,760.5 831.6,744.1" fill="#272424"/>
<line x1="775" y1="767.5" x2="833.7" y2="752.3" stroke="#787878" stroke-width="1"/>
<text x="0" y="12.5" transform="translate(730 778.6) rotate(-14.5)" font-size="36" text-anchor="middle" fill="#1c1c1c">40,0</text>
<line x1="825.8" y1="637.5" x2="825.8" y2="881.2" stroke="#787878" stroke-width="1.1"/>
<line x1="810" y1="717" x2="835" y2="717" stroke="#787878" stroke-width="1.1"/>
<line x1="806" y1="800.5" x2="835" y2="800.5" stroke="#787878" stroke-width="1.1"/>
<polygon points="825.8,716.2 817.2,685.2 834.2,685.2" fill="#272424"/>
<polygon points="825.8,801.2 834.2,832.2 817.2,832.2" fill="#272424"/>
<text x="0" y="12.5" transform="translate(800 858) rotate(-90)" font-size="36" text-anchor="middle" fill="#1c1c1c">10/18</text>
<line x1="425" y1="1101.7" x2="445" y2="1125" stroke="#787878" stroke-width="1"/>
<line x1="605" y1="956.7" x2="625" y2="981.7" stroke="#787878" stroke-width="1"/>
<polygon points="431.7,1106.7 450.7,1080.8 461.3,1094.1" fill="#272424"/>
<polygon points="610,965 591,990.9 580.4,977.6" fill="#272424"/>
<line x1="456" y1="1087.4" x2="486.7" y2="1063" stroke="#787878" stroke-width="1"/>
<line x1="558.3" y1="1006" x2="585.7" y2="984.3" stroke="#787878" stroke-width="1"/>
<text x="0" y="12.5" transform="translate(522.5 1034.5) rotate(-38.5)" font-size="36" text-anchor="middle" fill="#1c1c1c">42,0</text>
<line x1="933.3" y1="841.7" x2="938.3" y2="863.3" stroke="#787878" stroke-width="1"/>
<line x1="1156" y1="785" x2="1163.3" y2="808.3" stroke="#787878" stroke-width="1"/>
<polygon points="933.3,843.3 961.3,827.4 965.4,843.9" fill="#272424"/>
<polygon points="1156.7,786.7 1128.7,802.6 1124.6,786.1" fill="#272424"/>
<line x1="963.4" y1="835.7" x2="1001.7" y2="826" stroke="#787878" stroke-width="1"/>
<line x1="1090" y1="803.6" x2="1126.6" y2="794.3" stroke="#787878" stroke-width="1"/>
<text x="0" y="12.5" transform="translate(1046.7 815.8) rotate(-14.2)" font-size="36" text-anchor="middle" fill="#1c1c1c">48,0</text>
<line x1="1061.7" y1="756" x2="1046.7" y2="788.3" stroke="#787878" stroke-width="1"/>
<line x1="1280.2" y1="861.5" x2="1265.5" y2="893.6" stroke="#787878" stroke-width="1"/>
<polygon points="1055,769.3 1086.6,775 1079.3,790.3" fill="#272424"/>
<polygon points="1274.2,873.7 1242.6,868 1249.9,852.7" fill="#272424"/>
<line x1="1083" y1="782.6" x2="1126.7" y2="803.2" stroke="#787878" stroke-width="1"/>
<line x1="1206.7" y1="841" x2="1246.2" y2="860.4" stroke="#787878" stroke-width="1"/>
<text x="0" y="12.5" transform="translate(1166.7 821.7) rotate(25.3)" font-size="36" text-anchor="middle" fill="#1c1c1c">40,0</text>
<line x1="944.3" y1="1153.3" x2="960" y2="1173.3" stroke="#787878" stroke-width="1"/>
<line x1="1080" y1="1050" x2="1095" y2="1070" stroke="#787878" stroke-width="1"/>
<polygon points="946.8,1156 966.3,1130.4 976.6,1143.9" fill="#272424"/>
<polygon points="1080.8,1053.5 1061.3,1079.1 1051,1065.6" fill="#272424"/>
<line x1="971.4" y1="1137.2" x2="985" y2="1126" stroke="#787878" stroke-width="1"/>
<line x1="1050" y1="1077" x2="1056.2" y2="1072.3" stroke="#787878" stroke-width="1"/>
<text x="0" y="12.5" transform="translate(1016.6 1103) rotate(-37.4)" font-size="36" text-anchor="middle" fill="#1c1c1c">31,0</text>
<line x1="1324.4" y1="757.8" x2="1396.7" y2="757.8" stroke="#787878" stroke-width="1.1"/>
<line x1="1324.4" y1="1139" x2="1396.7" y2="1139" stroke="#787878" stroke-width="1.1"/>
<polygon points="1375.2,758.6 1383.7,789.6 1366.7,789.6" fill="#272424"/>
<polygon points="1375.2,1138.4 1366.7,1107.4 1383.7,1107.4" fill="#272424"/>
<line x1="1375.2" y1="789.8" x2="1375.2" y2="900.7" stroke="#787878" stroke-width="1.1"/>
<line x1="1375.2" y1="994" x2="1375.2" y2="1107.7" stroke="#787878" stroke-width="1.1"/>
<text x="0" y="12.5" transform="translate(1375.5 948) rotate(-90)" font-size="36" text-anchor="middle" fill="#1c1c1c">44,0</text>
</g>
</svg>
</body>
</html>
